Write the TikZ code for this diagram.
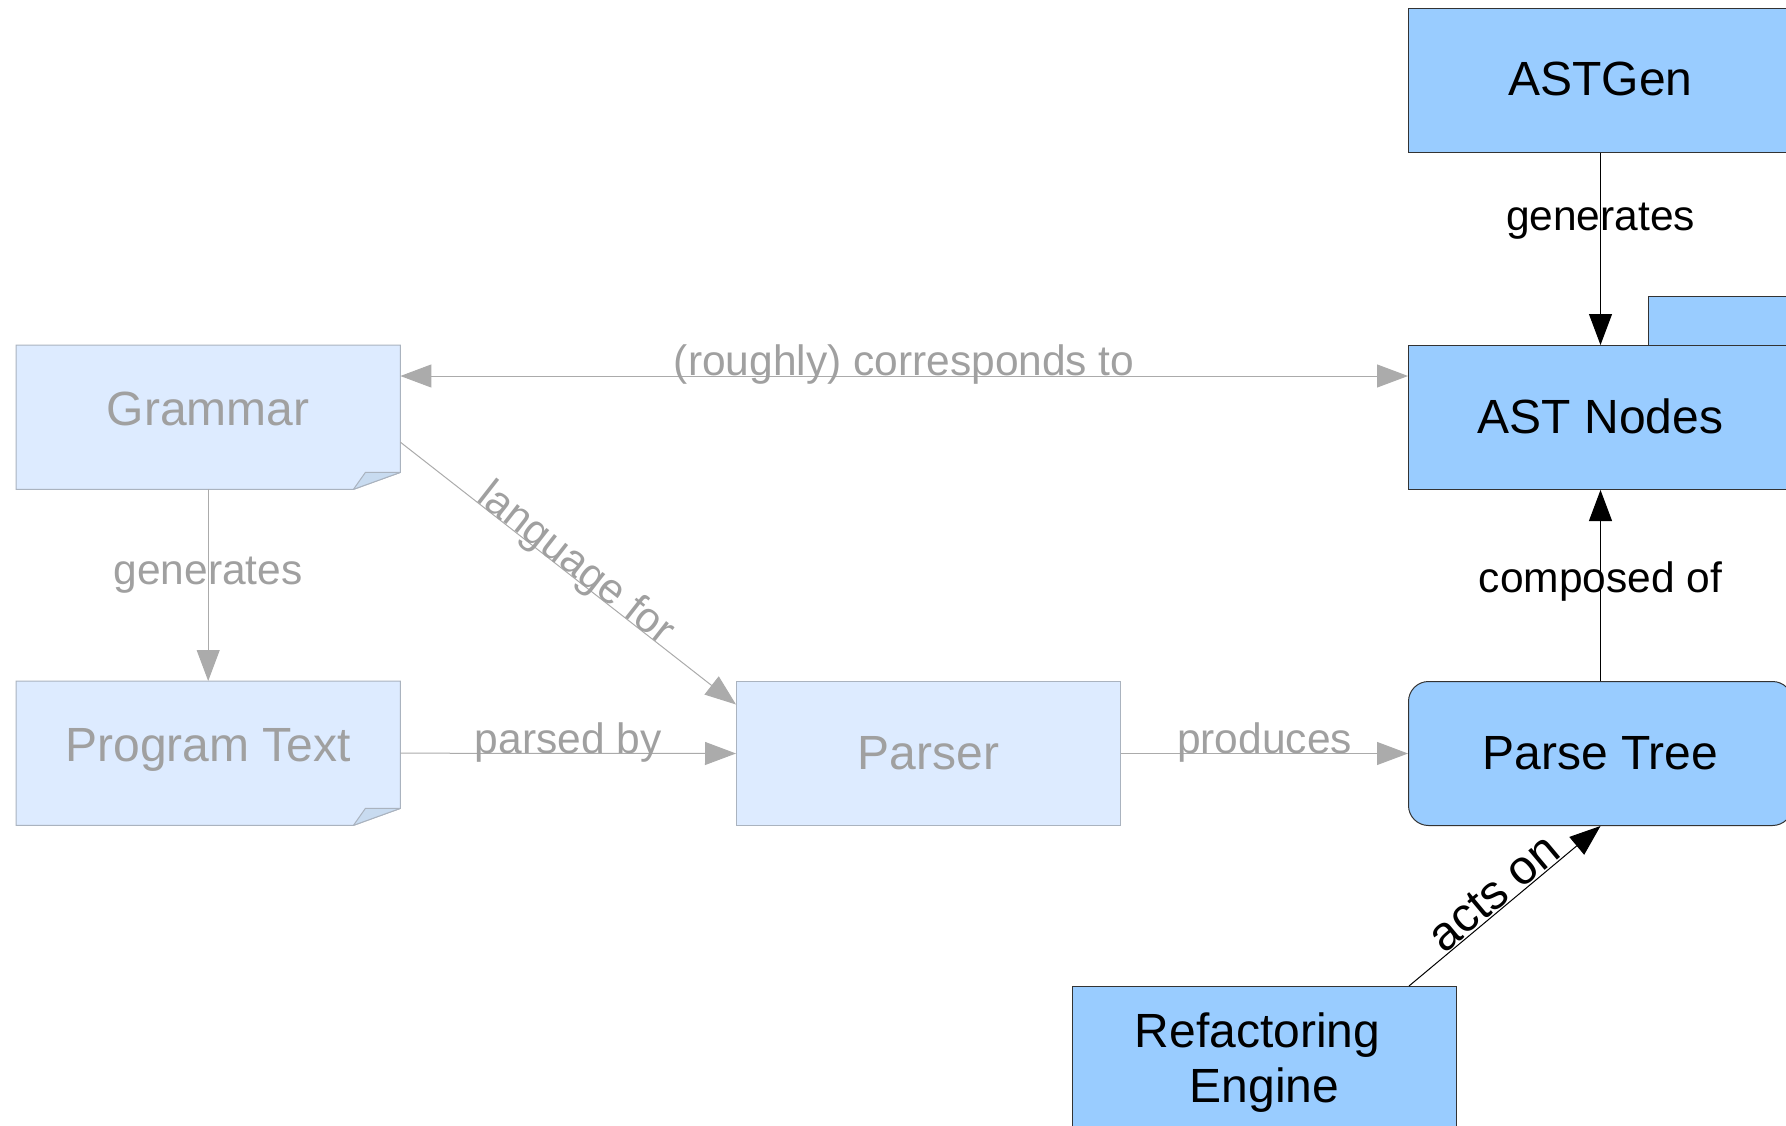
\documentclass[tikz,border=0pt]{standalone}
\usepackage{fontspec}
\setmainfont{Liberation Sans}
\usetikzlibrary{arrows.meta,calc,backgrounds}

\definecolor{paleblue}{HTML}{DDEBFF}
\definecolor{paleedge}{HTML}{AAB3BF}
\definecolor{foldfill}{HTML}{C8DBF0}
\definecolor{fadetext}{HTML}{A0A0A0}
\definecolor{fadeline}{HTML}{ABABAB}
\definecolor{solidblue}{HTML}{99CCFF}
\definecolor{solidedge}{HTML}{333333}

\begin{document}
\begin{tikzpicture}[x=1pt,y=-1pt,
  every node/.style={inner sep=0pt},
  boxbase/.style={minimum width=384pt, minimum height=144pt, anchor=north west,
    align=center, font=\fontsize{48}{54}\selectfont},
  oneline/.style={text height=34pt, text depth=2pt},
  palebox/.style={boxbase, oneline, fill=paleblue, draw=paleedge, line width=1pt, text=fadetext},
  pagebox/.style={boxbase, oneline, text=fadetext, text depth=18pt},
  solidbase/.style={boxbase, fill=solidblue, draw=solidedge, line width=1pt, text=black},
  solidbox/.style={solidbase, oneline, text depth=3pt},
  fadearrow/.style={fadeline, line width=1pt, -{Triangle[length=31pt,width=23pt]}},
  solidarrow/.style={black, line width=1pt, -{Triangle[length=31pt,width=23pt]}},
  edgelabel/.style={font=\fontsize{42.5}{46}\selectfont},
  fadelabel/.style={edgelabel, text=fadetext},
  solidlabel/.style={edgelabel, text=black},
  foldedpage/.style={fill=paleblue, draw=paleedge, line width=1pt},
  foldflap/.style={fill=foldfill, draw=paleedge, line width=1pt, line join=round}
]
\useasboundingbox (0,0) rectangle (1786,1126);
\clip (0,0) rectangle (1786,1126);

% pale (left-hand) side: grammar, program text, parser
\node[pagebox] (Grammar) at (16,345) {Grammar};
\node[pagebox] (ProgText) at (16,681) {Program Text};
\node[palebox] (Parser) at (736,681) {Parser};

% document outlines with a folded bottom-right corner
\begin{scope}[on background layer]
  \foreach \doc in {Grammar,ProgText}{
    \path[foldedpage] (\doc.north west) -- (\doc.north east)
      -- ($(\doc.south east)+(0,-17)$) -- ($(\doc.south east)+(-47,0)$)
      -- (\doc.south west) -- cycle;
    \path[foldflap] ($(\doc.south east)+(-47,0)$) -- ($(\doc.south east)+(-35,-17)$)
      -- ($(\doc.south east)+(0,-17)$) -- cycle;
  }
\end{scope}

% solid (right-hand) side
\node[solidbox, minimum width=200pt, minimum height=80pt] (Behind) at (1648,296) {};
\node[solidbox] (ASTGen) at (1408,8) {ASTGen};
\node[solidbox] (ASTNodes) at (1408,345) {AST Nodes};
\node[solidbox, rounded corners=20pt] (ParseTree) at (1408,681) {Parse Tree};
\node[solidbase, font=\fontsize{48}{55}\selectfont] (Refactor) at (1072,986)
  {\rule{0pt}{42pt}Refactoring\hspace*{14pt}\\Engine};

% pale connectors
\draw[fadearrow, {Triangle[length=31pt,width=23pt]}-{Triangle[length=31pt,width=23pt]}]
  ($(Grammar.north east)+(0,31)$) -- ($(ASTNodes.north west)+(0,31)$)
  node[fadelabel, pos=0.5, anchor=base, yshift=1pt] (lblcorr) {(roughly) corresponds to};
\draw[fadearrow] (Grammar.south) -- (ProgText.north)
  node[fadelabel, pos=0.448] (lblgen) {generates};
\draw[fadearrow] ($(Grammar.east)+(0,25)$) -- ($(Parser.west)+(0,-49)$)
  node[fadelabel, pos=0.5, sloped, anchor=base, yshift=0pt] (lbllang) {language for};
\draw[fadearrow] (ProgText.east) -- (Parser.west)
  node[fadelabel, pos=0.5, anchor=base] (lblparsed) {parsed by};
\draw[fadearrow] (Parser.east) -- (ParseTree.west)
  node[fadelabel, pos=0.5, anchor=base] (lblprod) {produces};

% solid connectors
\draw[solidarrow] (ASTGen.south) -- (ASTNodes.north)
  node[solidlabel, pos=0.355] (lblgen2) {generates};
\draw[solidarrow] (ParseTree.north) -- (ASTNodes.south)
  node[solidlabel, pos=0.522] (lblcomp) {composed of};
\draw[solidarrow] ($(Refactor.north west)+(337,0)$) -- (ParseTree.south)
  node[solidlabel, font=\fontsize{48}{52}\selectfont, pos=0.5, sloped, anchor=base, yshift=2pt]
  (lblacts) {acts on};
\end{tikzpicture}
\end{document}
